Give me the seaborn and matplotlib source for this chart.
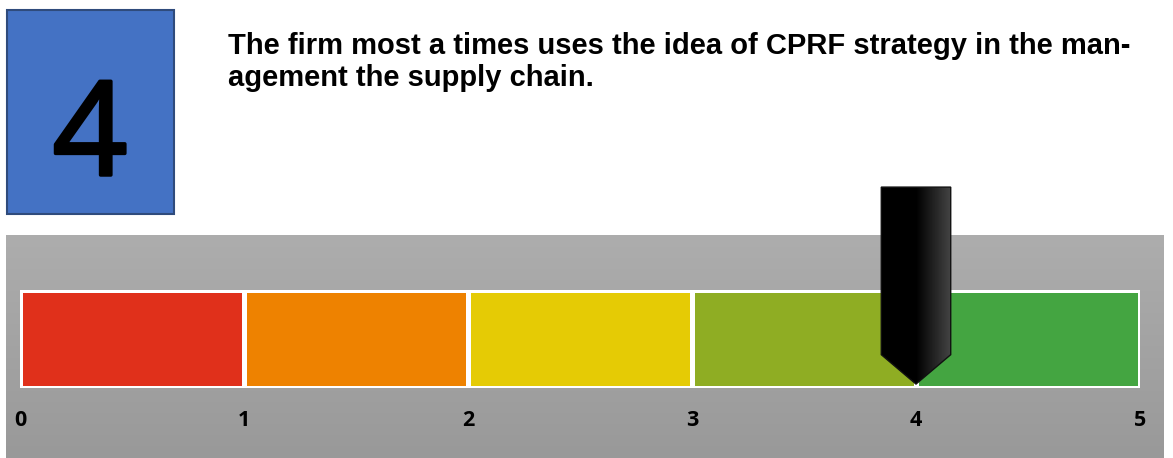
import numpy as np
import matplotlib
matplotlib.use("Agg")
import matplotlib.pyplot as plt
import matplotlib.patheffects as pe
import seaborn as sns
from matplotlib.colors import ListedColormap, LinearSegmentedColormap
from matplotlib.patches import Polygon, Rectangle

# data
score = 4
score_label = "4"
title_lines = ["The firm most a times uses the idea of CPRF strategy in the man-",
               "agement the supply chain."]
scale_ticks = [0, 1, 2, 3, 4, 5]
segment_colors = ["#E0301B", "#EE8200", "#E5CB05", "#8FAD23", "#44A541"]

sns.set_style("white")

W, H = 1173, 458
fig = plt.figure(figsize=(W / 100, H / 100), dpi=100)

# gray panel with vertical gradient
bg = fig.add_axes([6 / W, 0, (1164 - 6) / W, (458 - 235) / H])
grad = np.linspace(0, 1, 256).reshape(-1, 1)
bg.imshow(grad, aspect="auto", cmap=LinearSegmentedColormap.from_list("g", ["#ADADAD", "#999999"]),
          extent=[0, 1, 0, 1], origin="upper")
bg.set_axis_off()

# blue box with number
fig.patches.append(Rectangle((7 / W, (H - 214) / H), 167 / W, 204 / H, transform=fig.transFigure,
                             facecolor="#4472C4", edgecolor="#2F4B7C", linewidth=1.5))
fig.text(90 / W, (H - 175) / H, score_label, ha="center", va="baseline", fontsize=94,
         family=["Open Sans", "DejaVu Sans"], color="black",
         path_effects=[pe.withStroke(linewidth=2.5, foreground="black")])

for i, line in enumerate(title_lines):
    fig.text(228 / W, (H - 54 - 32 * i) / H, line, ha="left", va="baseline", fontsize=21,
             fontweight="bold", family=["Liberation Sans", "DejaVu Sans"], color="black")

# gauge bar
ax = fig.add_axes([20 / W, (H - 388) / H, 1120 / W, 98 / H])
sns.heatmap(np.arange(len(segment_colors)).reshape(1, -1), ax=ax, cmap=ListedColormap(segment_colors),
            cbar=False, linewidths=2.5, linecolor="white", vmin=-0.5, vmax=len(segment_colors) - 0.5)
ax.set_xticks(scale_ticks)
ax.set_xticklabels([str(t) for t in scale_ticks], fontsize=15.5, fontweight="bold",
                   family=["Open Sans", "DejaVu Sans"], color="black")
ax.tick_params(axis="x", length=0, pad=16, rotation=0)
ax.set_yticks([])

# pointer
hw = 0.155
top, shoulder, tip = -1.05, 0.66, 0.96
pts = [(score - hw, top), (score + hw, top), (score + hw, shoulder), (score, tip), (score - hw, shoulder)]
poly = Polygon(pts, closed=True, facecolor="none", edgecolor="#111111", linewidth=1, zorder=5)
ax.add_patch(poly)
poly.set_clip_on(False)
shade = np.concatenate([np.zeros(50), np.linspace(0, 1, 50)]).reshape(1, -1)
im = ax.imshow(shade, aspect="auto", cmap=LinearSegmentedColormap.from_list("p", ["#000000", "#444444"]),
               extent=[score - hw, score + hw, tip, top], zorder=4)
im.set_clip_box(fig.bbox)
im.set_clip_path(poly)
ax.set_xlim(0, 5)
ax.set_ylim(1, 0)

fig.savefig("out.png", dpi=100)
